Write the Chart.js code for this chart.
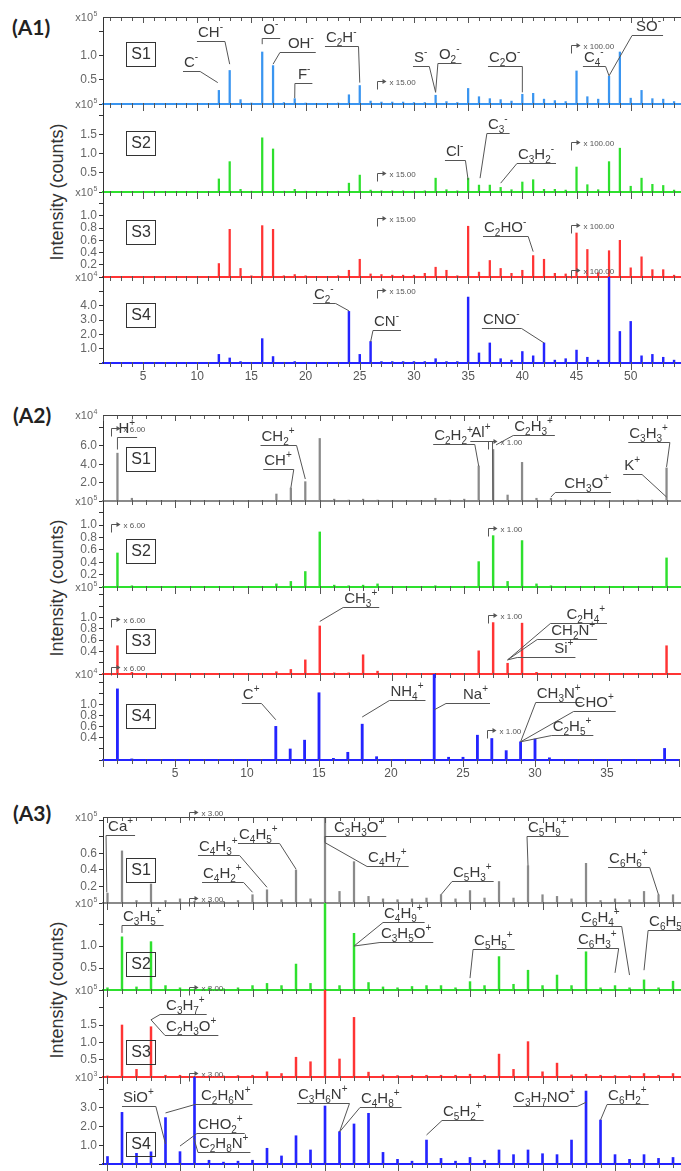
<!DOCTYPE html>
<html><head><meta charset="utf-8">
<script src="https://cdn.jsdelivr.net/npm/chart.js@4.4.1/dist/chart.umd.min.js"></script>
<style>
html,body{margin:0;padding:0;background:#fff;}
#page{position:relative;width:681px;height:1171px;overflow:hidden;background:#fff;}
#page canvas{position:absolute;left:0;}
.plabel{position:absolute;font-family:'Lato','Liberation Sans',sans-serif;font-weight:bold;font-size:21px;color:#222;line-height:1;}
.ytitle{position:absolute;font-family:'Liberation Sans',Arial,sans-serif;font-size:18px;color:#333;white-space:nowrap;line-height:1;transform:translate(-50%,-50%) rotate(-90deg);}
</style></head>
<body><div id="page">
<div class="plabel" style="left:12px;top:16px">(A1)</div>
<div class="plabel" style="left:13px;top:404px">(A2)</div>
<div class="plabel" style="left:13px;top:802px">(A3)</div>
<div class="ytitle" style="left:57px;top:192px">Intensity (counts)</div>
<div class="ytitle" style="left:57px;top:588px">Intensity (counts)</div>
<div class="ytitle" style="left:57px;top:990px">Intensity (counts)</div>
</div>
<script>
// ---------------- DATA ----------------
const A1_MASS = [12,13,14,15,16,17,18,19,20,21,22,23,24,25,26,27,28,29,30,31,32,33,34,35,36,37,38,39,40,41,42,43,44,45,46,47,48,49,50,51,52,53,54];
const A1_S1 = [0.28,0.69,0.09,0.02,1.07,0.79,0.03,0.11,0.02,0, 0,0.02,0.19,0.38,0.06,0.04,0.04,0.04,0.03,0.03, 0.18,0.05,0.03,0.32,0.15,0.11,0.09,0.06,0.20,0.22, 0.10,0.07,0.05,0.68,0.15,0.10,0.57,1.07,0.12,0.28, 0.11,0.10,0.05];
const A1_S2 = [0.34,0.79,0.07,0.02,1.41,1.12,0.02,0.07,0.02,0, 0,0.02,0.23,0.44,0.05,0.03,0.03,0.03,0.02,0.03, 0.36,0.06,0.03,0.36,0.18,0.18,0.12,0.06,0.26,0.32, 0.07,0.07,0.05,0.65,0.19,0.06,0.79,1.14,0.15,0.36, 0.20,0.17,0.05];
const A1_S3 = [0.22,0.78,0.14,0.02,0.84,0.78,0.02,0.04,0.02,0, 0,0.02,0.11,0.29,0.05,0.04,0.03,0.03,0.03,0.06, 0.16,0.11,0.02,0.83,0.08,0.27,0.14,0.06,0.11,0.35, 0.29,0.06,0.05,0.72,0.45,0.07,0.43,0.60,0.15,0.33, 0.12,0.12,0.03];
const A1_S4 = [0.6,0.35,0.1,0.05,1.7,0.45,0.05,0.1,0.05,0, 0.05,0.05,3.6,0.6,1.5,0.1,0.1,0.1,0.1,0.1, 0.3,0.1,0.1,4.6,0.7,1.4,0.3,0.2,0.8,0.5, 1.4,0.2,0.3,0.9,0.4,0.2,7.0,2.2,2.9,0.5, 0.6,0.4,0.2];

const A2_MASS = [1,2,3,4,5,6,7,8,9,10,11,12,13,14,15,16,17,18,19,20,21,22,23,24,25,26,27,28,29,30,31,32,33,34,35,36,37,38,39];
const A2_S1 = [5.2,0.3,0,0,0,0,0,0,0,0, 0,0.76,1.4,2.1,6.8,0.2,0.1,0.2,0.1,0, 0,0,0.3,0.1,0.2,3.8,5.6,0.65,4.2,0.3, 0.3,0.1,0,0,0,0,0.1,0.1,3.6];
const A2_S2 = [0.55,0.02,0,0,0,0,0,0,0,0, 0,0.05,0.09,0.25,0.89,0.03,0.02,0.03,0.05,0, 0,0,0.02,0,0,0.41,0.83,0.09,0.75,0.05, 0.02,0,0,0,0,0,0,0,0.47];
const A2_S3 = [0.5,0.03,0,0,0,0,0,0,0,0, 0,0.04,0.08,0.25,0.85,0.02,0.02,0.34,0.05,0, 0,0,0,0,0,0.41,0.91,0.19,0.9,0.03, 0,0,0,0,0,0,0,0,0.5];
const A2_S4 = [1.29,0.02,0,0,0,0,0,0,0,0, 0,0.61,0.2,0.36,1.22,0.03,0.14,0.65,0.06,0, 0,0,2.5,0.05,0.05,0.45,0.39,0.17,0.33,0.38, 0.04,0,0,0,0,0,0,0,0.21];

const A3_MASS = [40,41,42,43,44,45,46,47,48,49,50,51,52,53,54,55,56,57,58,59,60,61,62,63,64,65,66,67,68,69,70,71,72,73,74,75,76,77,78,79];
const A3_S1 = [0.12,0.63,0.03,0.23,0.03,0.05,0.02,0.02,0.02,0.03, 0.10,0.16,0.04,0.40,0.05,1.20,0.14,0.50,0.08,0.05, 0.04,0.05,0.06,0.10,0.05,0.15,0.06,0.26,0.06,0.45, 0.10,0.08,0.05,0.48,0.03,0.05,0.04,0.14,0.10,0.10];
const A3_S2 = [0.05,1.21,0.07,1.10,0.10,0.05,0.02,0.05,0.03,0.05, 0.10,0.15,0.10,0.59,0.15,2.10,0.10,1.29,0.17,0.07, 0.05,0.08,0.10,0.10,0.05,0.19,0.10,0.76,0.13,0.45, 0.10,0.34,0.10,0.87,0.05,0.10,0.05,0.23,0.05,0.20];
const A3_S3 = [0.03,1.50,0.22,1.45,0.05,0.05,0.02,0.03,0.03,0.04, 0.05,0.15,0.10,0.57,0.44,2.80,0.52,1.72,0.14,0.06, 0.04,0.05,0.05,0.05,0.05,0.08,0.05,0.66,0.22,1.02, 0.15,0.40,0.06,0.08,0.05,0.04,0.04,0.10,0.05,0.10];
const A3_S4 = [0.40,2.76,0.57,0.65,2.48,0.66,5.00,0.20,0.10,0.15, 0.20,0.84,0.43,1.51,0.75,3.10,1.73,2.14,2.71,0.62, 0.25,0.15,1.28,0.30,0.15,0.35,0.20,0.75,0.50,0.75, 0.55,0.50,1.28,3.90,2.35,0.50,0.25,0.50,0.30,0.35];

const A1_XTICKS = [5,10,15,20,25,30,35,40,45,50];
const A2_XTICKS = [5,10,15,20,25,30,35];
const A3_XTICKS = [45,50,55,60,65,70,75];

const A1_YL = [[0.5,1.0],[0.5,1.0,1.5],[0.2,0.4,0.6,0.8,1.0],[1,2,3,4]];
const A2_YL = [[2,4,6],[0.2,0.4,0.6,0.8,1.0],[0.4,0.6,0.8,1.0],[0.4,0.6,0.8,1.0]];
const A3_YL = [[0.2,0.4,0.6],[0.5,1.0],[0.5,1.0,1.5],[1,2,3]];

// ---------------- STYLE / LAYOUT ----------------
const FONT = "'Liberation Sans', Arial, sans-serif";
const C_LB = '#3a95f0', C_GR = '#2ee02e', C_RD = '#ff3434', C_BL = '#2424ff', C_GY = '#8a8a8a';

const PANELS = [
 {xmin:1.31, xmax:54.64, mass:A1_MASS, xticks:A1_XTICKS, subs:[
  {top:17, base:104, max:1.79, step:0.5, yl:A1_YL[0], exp:'5', color:C_LB, bw:1.6, vals:A1_S1, box:'S1', boxY:37,
   markers:[['x 15.00',26.56,0.48],['x 100.00',44.46,1.21]],
   notes:[
    {t:'C-',at:[8.69,0.67],to:[11.9,0.44],side:'R'},
    {t:'CH-',at:[9.98,1.29],to:[13,0.82],side:'R'},
    {t:'O-',at:[16.0,1.35],to:[16.0,1.23],side:'L'},
    {t:'OH-',at:[18.28,1.08],to:[17,0.82],side:'L',ext:7},
    {t:'F-',at:[19.2,0.44],to:[19,0.12],side:'L',ext:2},
    {t:'C2H-',at:[21.79,1.19],to:[25,0.44],side:'R'},
    {t:'S-',at:[29.91,0.79],to:[32,0.24],side:'R'},
    {t:'O2-',at:[32.21,0.84],to:[32,0.24],side:'L'},
    {t:'C2O-',at:[36.83,0.79],to:[40,0.24],side:'R'},
    {t:'C4-',at:[45.59,0.79],to:[48,0.58],side:'R'},
    {t:'SO-',at:[50.4,1.41],to:[48,0.58],side:'L',ext:3}]},
  {top:104, base:192, max:2.29, step:0.5, yl:A1_YL[1], exp:'5', color:C_GR, bw:1.6, vals:A1_S2, box:'S2', boxY:39,
   markers:[['x 15.00',26.56,0.49],['x 100.00',44.46,1.31]],
   notes:[
    {t:'Cl-',at:[32.86,0.83],to:[35,0.31],side:'R'},
    {t:'C3-',at:[36.73,1.53],to:[36.1,0.36],side:'L'},
    {t:'C3H2-',at:[39.5,0.75],to:[38,0.23],side:'L'}]},
  {top:192, base:277, max:1.39, step:0.2, yl:A1_YL[2], exp:'5', color:C_RD, bw:1.6, vals:A1_S3, box:'S3', boxY:40,
   markers:[['x 15.00',26.56,0.97],['x 100.00',44.46,0.85]],
   notes:[
    {t:'C2HO-',at:[36.37,0.67],to:[41,0.415],side:'R'}]},
  {top:277, base:363, max:6.0, step:1, yl:A1_YL[3], exp:'4', color:C_BL, bw:1.8, vals:A1_S4, box:'S4', boxY:38,
   markers:[['x 15.00',26.56,5.06],['x 100.00',44.46,6.5]],
   notes:[
    {t:'C2-',at:[20.68,4.2],to:[24,3.64],side:'R'},
    {t:'CN-',at:[26.22,2.31],to:[26,1.47],side:'L'},
    {t:'CNO-',at:[36.27,2.45],to:[42,1.4],side:'R'}]}
 ]},
 {xmin:0, xmax:40, mass:A2_MASS, xticks:A2_XTICKS, subs:[
  {top:415, base:501, max:9.35, step:2, yl:A2_YL[0], exp:'4', color:C_GY, bw:1.6, vals:A2_S1, box:'S1', boxY:44,
   markers:[['x 6.00',0.57,7.93],['x 1.00',26.64,6.52]],
   notes:[
    {t:'H+',at:[1.0,6.96],to:[1.0,5.6],side:'L'},
    {t:'CH2+',at:[10.9,6.09],to:[14,2.39],side:'R'},
    {t:'CH+',at:[11.09,3.48],to:[13,1.41],side:'R'},
    {t:'C2H2+',at:[22.85,6.2],to:[26,3.8],side:'R'},
    {t:'Al+',at:[25.42,6.52],to:[27,0.1],side:'R'},
    {t:'C2H3+',at:[28.39,7.17],to:[27.2,6.1],side:'L'},
    {t:'C3H3+',at:[36.35,6.41],to:[39,3.7],side:'R'},
    {t:'K+',at:[36.0,2.93],to:[39,0.43],side:'R'},
    {t:'CH3O+',at:[31.85,0.98],to:[31,0.43],side:'L',ext:8}]},
  {top:501, base:587, max:1.39, step:0.2, yl:A2_YL[1], exp:'5', color:C_GR, bw:1.8, vals:A2_S2, box:'S2', boxY:50,
   markers:[['x 6.00',0.57,1.02],['x 1.00',26.64,0.95]], notes:[]},
  {top:587, base:674, max:1.54, step:0.2, yl:A2_YL[2], exp:'5', color:C_RD, bw:1.8, vals:A2_S3, box:'S3', boxY:54,
   markers:[['x 6.00',0.57,0.97],['x 1.00',26.64,1.04]],
   notes:[
    {t:'CH3+',at:[16.62,1.19],to:[15,0.93],side:'L'},
    {t:'C2H4+',at:[32.0,0.9],to:[28,0.25],side:'L',ext:15},
    {t:'CH2N+',at:[30.95,0.62],to:[28,0.25],side:'L',ext:13},
    {t:'Si+',at:[31.16,0.3],to:[28,0.25],side:'L',ext:36}]},
  {top:674, base:760, max:1.56, step:0.2, yl:A2_YL[3], exp:'4', color:C_BL, bw:2.2, vals:A2_S4, box:'S4', boxY:42,
   markers:[['x 6.00',0.57,1.69],['x 1.00',26.64,0.55]],
   notes:[
    {t:'C+',at:[9.64,1.04],to:[12,0.73],side:'R'},
    {t:'NH4+',at:[19.89,1.09],to:[18,0.78],side:'L'},
    {t:'Na+',at:[24.93,1.04],to:[23,0.91],side:'L',ext:16},
    {t:'CH3N+',at:[30.05,1.05],to:[29,0.33],side:'L'},
    {t:'CHO+',at:[32.68,0.89],to:[29,0.33],side:'L'},
    {t:'C2H5+',at:[31.16,0.45],to:[29,0.33],side:'L'}]}
 ]},
 {xmin:39.69, xmax:79.55, mass:A3_MASS, xticks:A3_XTICKS, subs:[
  {top:817, base:903, max:1.04, step:0.2, yl:A3_YL[0], exp:'5', color:C_GY, bw:1.6, vals:A3_S1, box:'S1', boxY:53,
   markers:[['x 3.00',45.62,1.1]],
   notes:[
    {t:'Ca+',at:[39.97,0.82],to:[39.95,0.13],side:'L',ext:1},
    {t:'C4H3+',at:[46.24,0.58],to:[51,0.19],side:'R'},
    {t:'C4H2+',at:[46.52,0.26],to:[50,0.13],side:'R'},
    {t:'C4H5+',at:[49.0,0.73],to:[53,0.41],side:'R'},
    {t:'C3H3O+',at:[55.55,0.81],to:[55,0.73],side:'L',ext:8},
    {t:'C4H7+',at:[57.9,0.45],to:[55,0.73],side:'L'},
    {t:'C5H3+',at:[63.76,0.27],to:[63,0.1],side:'L'},
    {t:'C5H9+',at:[68.93,0.81],to:[69,0.45],side:'L'},
    {t:'C6H6+',at:[74.52,0.43],to:[78,0.1],side:'R'}]},
  {top:903, base:990, max:1.98, step:0.5, yl:A3_YL[1], exp:'5', color:C_GR, bw:1.8, vals:A3_S2, box:'S2', boxY:61,
   markers:[['x 3.00',45.62,2.09]],
   notes:[
    {t:'C3H5+',at:[41.0,1.48],to:[41,1.3],side:'L'},
    {t:'C4H9+',at:[59.0,1.55],to:[57,1.0],side:'L'},
    {t:'C3H5O+',at:[58.79,1.10],to:[57,1.0],side:'L'},
    {t:'C5H5+',at:[65.21,0.93],to:[65,0.27],side:'L'},
    {t:'C6H4+',at:[72.59,1.45],to:[76,0.34],side:'R'},
    {t:'C6H3+',at:[72.38,0.95],to:[75,0.39],side:'R'},
    {t:'C6H5+',at:[77.28,1.36],to:[77,0.45],side:'L'}]},
  {top:990, base:1077, max:2.51, step:0.5, yl:A3_YL[2], exp:'5', color:C_RD, bw:1.8, vals:A3_S3, box:'S3', boxY:62,
   markers:[['x 3.00',45.62,2.6]],
   notes:[
    {t:'C3H7+',at:[43.97,1.82],to:[43,1.65],side:'L',ext:5},
    {t:'C2H3O+',at:[43.97,1.21],to:[43,1.65],side:'L'}]},
  {top:1077, base:1164, max:4.65, step:1, yl:A3_YL[3], exp:'3', color:C_BL, bw:2.0, vals:A3_S4, box:'S4', boxY:67,
   markers:[['x 3.00',45.62,4.87]],
   notes:[
    {t:'SiO+',at:[41.0,3.1],to:[44,1.07],side:'R'},
    {t:'C2H6N+',at:[46.38,3.21],to:[44,2.73],side:'L',ext:5},
    {t:'CHO2+',at:[46.17,1.66],to:[45,0.96],side:'L'},
    {t:'C2H8N+',at:[46.24,0.64],to:[45.95,1.4],side:'L'},
    {t:'C3H6N+',at:[53.07,3.26],to:[56,1.71],side:'R'},
    {t:'C4H8+',at:[57.41,3.05],to:[56,1.71],side:'L'},
    {t:'C5H2+',at:[63.07,2.35],to:[62,1.55],side:'L'},
    {t:'C3H7NO+',at:[67.97,3.1],to:[73,3.3],side:'R'},
    {t:'C6H2+',at:[74.45,3.21],to:[74,2.35],side:'L'}]}
 ]}
];

// formula text: digits subscript, trailing +/- superscript
function fmla(ctx, text, x, y, size, draw) {
  let cx = x; const n = text.length;
  for (let i = 0; i < n; i++) {
    const ch = text[i]; let f = size, dy = 0;
    if (ch >= '0' && ch <= '9') { f = Math.round(size*0.68); dy = size*0.28; }
    else if ((ch === '+' || ch === '-') && i === n-1) { f = Math.round(size*0.68); dy = -size*0.42; }
    ctx.font = f + 'px ' + FONT;
    if (draw) ctx.fillText(ch, cx, y + dy);
    cx += ctx.measureText(ch).width;
  }
  return cx - x;
}
function seg(ctx, x0, y0, x1, y1) { ctx.beginPath(); ctx.moveTo(x0, y0); ctx.lineTo(x1, y1); ctx.stroke(); }

const decor = {
  id: 'decor',
  afterDatasetsDraw(chart, args, o) {
    const ctx = chart.ctx, xs = chart.scales.x, ys = chart.scales.y, ca = chart.chartArea;
    ctx.save();
    ctx.lineWidth = 1; ctx.strokeStyle = '#555';
    for (let m = Math.ceil(xs.min); m <= xs.max; m++) {
      const px = Math.round(xs.getPixelForValue(m)) + 0.5, major = m % 5 === 0;
      seg(ctx, px, ca.bottom - 1, px, ca.bottom + (major ? 7 : 4));
      if (o.frame) seg(ctx, px, ca.top, px, ca.top + (major ? 6 : 4));
    }
    if (o.frame) { ctx.strokeStyle = '#444'; seg(ctx, ca.left, ca.top + 0.5, ca.right, ca.top + 0.5); }
    ctx.fillStyle = '#666'; ctx.textBaseline = 'alphabetic'; ctx.textAlign = 'left';
    ctx.font = '11px ' + FONT; const w1 = ctx.measureText('x10').width;
    ctx.font = '7px ' + FONT; const w2 = ctx.measureText(o.exp).width;
    const ex = ca.left - 6 - w1 - w2;
    ctx.font = '11px ' + FONT; ctx.fillText('x10', ex, ca.top + 4);
    ctx.font = '7px ' + FONT; ctx.fillText(o.exp, ex + w1 + 0.5, ca.top - 1);
    ctx.strokeStyle = '#333'; ctx.lineWidth = 1;
    const bx = ca.left + 23.5, by = Math.round(ca.top + o.boxY - 12) + 0.5;
    ctx.strokeRect(bx, by, 29, 24);
    ctx.fillStyle = '#333'; ctx.font = '16px ' + FONT; ctx.textAlign = 'center'; ctx.textBaseline = 'middle';
    ctx.fillText(o.box, bx + 14.5, by + 12.5);
    ctx.textAlign = 'left'; ctx.textBaseline = 'alphabetic';
    for (const [txt, m, v] of o.markers) {
      const px = Math.round(xs.getPixelForValue(m)) + 0.5, py = Math.round(ys.getPixelForValue(v)) + 0.5;
      ctx.strokeStyle = '#555'; ctx.fillStyle = '#555';
      ctx.beginPath(); ctx.moveTo(px, py + 8); ctx.lineTo(px, py); ctx.lineTo(px + 6, py); ctx.stroke();
      ctx.beginPath(); ctx.moveTo(px + 5, py - 2.5); ctx.lineTo(px + 9, py); ctx.lineTo(px + 5, py + 2.5); ctx.closePath(); ctx.fill();
      ctx.font = '8px ' + FONT; ctx.fillText(txt, px + 12, py + 3);
    }
    for (const a of o.notes) {
      const lx = xs.getPixelForValue(a.at[0]), uy = Math.round(ys.getPixelForValue(a.at[1])) + 0.5;
      const w = fmla(ctx, a.t, 0, 0, 15, false);
      ctx.fillStyle = '#3a3a3a';
      fmla(ctx, a.t, lx + 1, uy - 5, 15, true);
      const ext = a.ext || 0;
      const x0 = lx - (a.side === 'L' ? ext : 0), x1 = lx + w + 3 + (a.side === 'R' ? ext : 0);
      ctx.strokeStyle = '#555'; ctx.lineWidth = 1;
      seg(ctx, x0, uy, x1, uy);
      const sx = a.side === 'L' ? x0 : x1;
      seg(ctx, sx, uy, xs.getPixelForValue(a.to[0]), ys.getPixelForValue(a.to[1]));
    }
    ctx.restore();
  }
};

Chart.defaults.font.family = FONT;
const page = document.getElementById('page');
PANELS.forEach(p => {
  p.subs.forEach((s, i) => {
    const last = i === p.subs.length - 1;
    const padTop = 34, padBot = last ? 26 : 14;
    const h = (s.base - s.top) + padTop + padBot;
    const cv = document.createElement('canvas');
    cv.width = 681; cv.height = h;
    cv.style.top = (s.top - padTop) + 'px';
    cv.style.width = '681px'; cv.style.height = h + 'px';
    page.appendChild(cv);
    new Chart(cv, {
      type: 'bar',
      data: { datasets: [{ data: p.mass.map((m, k) => ({ x: m, y: s.vals[k] })), backgroundColor: s.color, borderWidth: 0, barThickness: s.bw, clip: 0 }] },
      options: {
        responsive: false, animation: false, devicePixelRatio: 1,
        layout: { padding: { top: padTop, left: 0, right: 0, bottom: 0 } },
        plugins: { legend: { display: false }, tooltip: { enabled: false },
          decor: { frame: i === 0, exp: s.exp, box: s.box, boxY: s.boxY, markers: s.markers, notes: s.notes } },
        scales: {
          x: { type: 'linear', min: p.xmin, max: p.xmax, offset: false,
            grid: { display: false, drawTicks: true, tickLength: 4 },
            border: { display: true, color: s.color, width: 2 },
            ticks: { display: last, stepSize: 5, includeBounds: false, autoSkip: false, maxRotation: 0, color: '#555', font: { size: 12 }, padding: 2,
              callback: v => p.xticks.includes(v) ? String(v) : '' },
            afterFit: sc => { sc.height = padBot; } },
          y: { min: 0, max: s.max,
            grid: { drawOnChartArea: false, drawTicks: true, tickLength: 4, color: '#333' },
            border: { display: true, color: '#333', width: 1 },
            ticks: { stepSize: s.step, includeBounds: false, autoSkip: false, color: '#666', font: { size: 12 }, padding: 2,
              callback: v => s.yl.some(l => Math.abs(l - v) < 1e-6) ? v.toFixed(1) : '' },
            afterFit: sc => { sc.width = 103; } }
        }
      },
      plugins: [decor]
    });
  });
});
</script>
</body></html>
